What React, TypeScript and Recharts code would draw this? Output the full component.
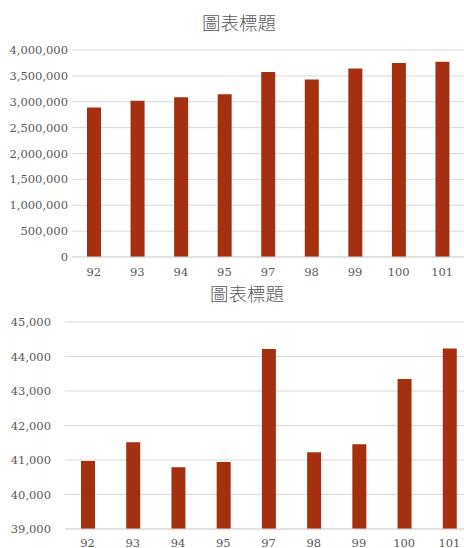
import { BarChart, Bar, XAxis, YAxis, CartesianGrid } from 'recharts';

const years = ['92', '93', '94', '95', '97', '98', '99', '100', '101'];
const totals = [2890000, 3017000, 3089000, 3147000, 3573000, 3431000, 3644000, 3747000, 3772000];
const averages = [40970, 41517, 40790, 40945, 44216, 41226, 41458, 43345, 44234];
const totalTicks = [0, 500000, 1000000, 1500000, 2000000, 2500000, 3000000, 3500000, 4000000];
const averageTicks = [39000, 40000, 41000, 42000, 43000, 44000, 45000];
const chartTitle = '圖表標題';

const topData = years.map((year, i) => ({ year, value: totals[i] }));
const bottomData = years.map((year, i) => ({ year, value: averages[i] }));

const barColor = '#a5300f';
const textColor = '#595959';
const gridColor = '#d9d9d9';
const tickFont = { fontFamily: 'DejaVu Serif', fontSize: 11.5, fill: textColor };

const fmt = (v: number) => v.toLocaleString('en-US');

const titleStyle = (top: number, center: number): React.CSSProperties => ({
  position: 'absolute',
  top,
  left: center - 60,
  width: 120,
  textAlign: 'center',
  fontFamily: '"Noto Sans CJK TC"',
  fontWeight: 300,
  fontSize: 18.5,
  lineHeight: '24px',
  color: textColor,
});

export default function App() {
  return (
    <div
      style={{
        position: 'fixed',
        left: 0,
        top: 0,
        width: 464,
        height: 548,
        overflow: 'hidden',
        background: '#fff',
      }}
    >
      <div style={titleStyle(10, 239)}>{chartTitle}</div>
      <div style={{ position: 'absolute', left: 0, top: 0 }}>
        <BarChart
          width={464}
          height={280}
          data={topData}
          margin={{ top: 50, right: 0, bottom: 0, left: 0 }}
        >
          <CartesianGrid vertical={false} stroke={gridColor} />
          <XAxis
            dataKey="year"
            height={23}
            tickLine={false}
            tickSize={0}
            tickMargin={11}
            stroke={gridColor}
            tick={tickFont}
          />
          <YAxis
            width={72}
            domain={[0, 4000000]}
            ticks={totalTicks}
            axisLine={false}
            tickLine={false}
            tickSize={0}
            tickMargin={4}
            tickFormatter={fmt}
            tick={tickFont}
          />
          <Bar dataKey="value" fill={barColor} barSize={14} isAnimationActive={false} />
        </BarChart>
      </div>

      <div style={titleStyle(281, 247)}>{chartTitle}</div>
      <div style={{ position: 'absolute', left: 0, top: 280 }}>
        <BarChart
          width={472}
          height={280}
          data={bottomData}
          margin={{ top: 42, right: 0, bottom: 0, left: 0 }}
        >
          <CartesianGrid vertical={false} stroke={gridColor} />
          <XAxis
            dataKey="year"
            height={31}
            tickLine={false}
            tickSize={0}
            tickMargin={10}
            stroke={gridColor}
            tick={tickFont}
          />
          <YAxis
            width={65}
            domain={[39000, 45000]}
            ticks={averageTicks}
            axisLine={false}
            tickLine={false}
            tickSize={0}
            tickMargin={14}
            tickFormatter={fmt}
            tick={tickFont}
          />
          <Bar dataKey="value" fill={barColor} barSize={14} isAnimationActive={false} />
        </BarChart>
      </div>
    </div>
  );
}
